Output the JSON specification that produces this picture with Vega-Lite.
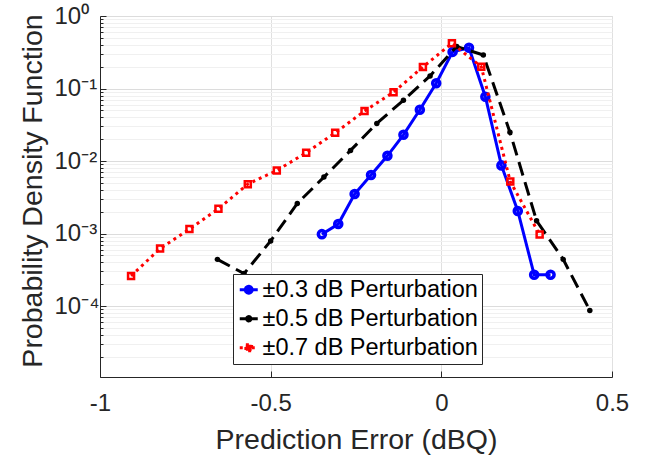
{
  "$schema": "https://vega.github.io/schema/vega-lite/v6.json",
  "width": 512,
  "height": 361,
  "autosize": "none",
  "padding": {"left": 100, "top": 16, "right": 40, "bottom": 82},
  "background": "white",
  "config": {
    "view": {"stroke": "#d9d9d9", "strokeWidth": 1},
    "font": "Liberation Sans"
  },
  "data": {
    "values": [
      {"series": "±0.3 dB Perturbation", "x": -0.350, "y": 0.00098},
      {"series": "±0.3 dB Perturbation", "x": -0.302, "y": 0.00135},
      {"series": "±0.3 dB Perturbation", "x": -0.254, "y": 0.0035},
      {"series": "±0.3 dB Perturbation", "x": -0.206, "y": 0.0064},
      {"series": "±0.3 dB Perturbation", "x": -0.158, "y": 0.0118},
      {"series": "±0.3 dB Perturbation", "x": -0.111, "y": 0.023},
      {"series": "±0.3 dB Perturbation", "x": -0.063, "y": 0.051},
      {"series": "±0.3 dB Perturbation", "x": -0.015, "y": 0.118},
      {"series": "±0.3 dB Perturbation", "x": 0.033, "y": 0.32},
      {"series": "±0.3 dB Perturbation", "x": 0.081, "y": 0.365},
      {"series": "±0.3 dB Perturbation", "x": 0.129, "y": 0.077},
      {"series": "±0.3 dB Perturbation", "x": 0.176, "y": 0.0087},
      {"series": "±0.3 dB Perturbation", "x": 0.224, "y": 0.00205},
      {"series": "±0.3 dB Perturbation", "x": 0.272, "y": 0.00027},
      {"series": "±0.3 dB Perturbation", "x": 0.320, "y": 0.00027},
      {"series": "±0.5 dB Perturbation", "x": -0.656, "y": 0.00044},
      {"series": "±0.5 dB Perturbation", "x": -0.578, "y": 0.00028},
      {"series": "±0.5 dB Perturbation", "x": -0.500, "y": 0.00079},
      {"series": "±0.5 dB Perturbation", "x": -0.422, "y": 0.0026},
      {"series": "±0.5 dB Perturbation", "x": -0.344, "y": 0.006},
      {"series": "±0.5 dB Perturbation", "x": -0.266, "y": 0.014},
      {"series": "±0.5 dB Perturbation", "x": -0.189, "y": 0.033},
      {"series": "±0.5 dB Perturbation", "x": -0.111, "y": 0.069},
      {"series": "±0.5 dB Perturbation", "x": -0.033, "y": 0.149},
      {"series": "±0.5 dB Perturbation", "x": 0.045, "y": 0.38},
      {"series": "±0.5 dB Perturbation", "x": 0.123, "y": 0.29},
      {"series": "±0.5 dB Perturbation", "x": 0.201, "y": 0.025},
      {"series": "±0.5 dB Perturbation", "x": 0.279, "y": 0.0015},
      {"series": "±0.5 dB Perturbation", "x": 0.357, "y": 0.00044},
      {"series": "±0.5 dB Perturbation", "x": 0.435, "y": 0.000087},
      {"series": "±0.7 dB Perturbation", "x": -0.909, "y": 0.00026},
      {"series": "±0.7 dB Perturbation", "x": -0.824, "y": 0.00062},
      {"series": "±0.7 dB Perturbation", "x": -0.738, "y": 0.00115},
      {"series": "±0.7 dB Perturbation", "x": -0.653, "y": 0.0022},
      {"series": "±0.7 dB Perturbation", "x": -0.567, "y": 0.0048},
      {"series": "±0.7 dB Perturbation", "x": -0.482, "y": 0.0074},
      {"series": "±0.7 dB Perturbation", "x": -0.396, "y": 0.013},
      {"series": "±0.7 dB Perturbation", "x": -0.311, "y": 0.0245},
      {"series": "±0.7 dB Perturbation", "x": -0.225, "y": 0.049},
      {"series": "±0.7 dB Perturbation", "x": -0.140, "y": 0.089},
      {"series": "±0.7 dB Perturbation", "x": -0.054, "y": 0.198},
      {"series": "±0.7 dB Perturbation", "x": 0.031, "y": 0.42},
      {"series": "±0.7 dB Perturbation", "x": 0.117, "y": 0.2},
      {"series": "±0.7 dB Perturbation", "x": 0.202, "y": 0.0052},
      {"series": "±0.7 dB Perturbation", "x": 0.288, "y": 0.00097}
    ]
  },
  "encoding": {
    "x": {
      "field": "x", "type": "quantitative",
      "scale": {"domain": [-1, 0.5], "nice": false, "zero": false},
      "axis": {
        "values": [-1, -0.5, 0, 0.5],
        "labelExpr": "'' + datum.value",
        "labelFlush": false,
        "title": "Prediction Error (dBQ)",
        "titleFont": "Liberation Sans", "titleFontSize": 28.5, "titleFontWeight": "normal", "titleColor": "#262626",
        "titleBaseline": "alphabetic", "titleY": 71,
        "labelFont": "Liberation Sans", "labelFontSize": 24, "labelColor": "#262626",
        "labelPadding": 20, "labelBaseline": "top",
        "domainColor": "#262626", "domainWidth": 1,
        "tickColor": "#262626", "tickSize": -6,
        "grid": true, "gridColor": "#e0e0e0", "gridWidth": 1
      }
    },
    "y": {
      "field": "y", "type": "quantitative",
      "scale": {"type": "log", "domain": [0.0000105, 1], "nice": false},
      "axis": {
        "values": [0.00002, 0.00003, 0.00004, 0.00005, 0.00006, 0.00007, 0.00008, 0.00009,
                   0.0001, 0.0002, 0.0003, 0.0004, 0.0005, 0.0006, 0.0007, 0.0008, 0.0009,
                   0.001, 0.002, 0.003, 0.004, 0.005, 0.006, 0.007, 0.008, 0.009,
                   0.01, 0.02, 0.03, 0.04, 0.05, 0.06, 0.07, 0.08, 0.09,
                   0.1, 0.2, 0.3, 0.4, 0.5, 0.6, 0.7, 0.8, 0.9, 1],
        "labelExpr": "datum.value == 1 ? '10⁰' : datum.value == 0.1 ? '10⁻¹' : datum.value == 0.01 ? '10⁻²' : datum.value == 0.001 ? '10⁻³' : datum.value == 0.0001 ? '10⁻⁴' : ''",
        "labelFlush": false,
        "title": "Probability Density Function",
        "titleFont": "Liberation Sans", "titleFontSize": 28.5, "titleFontWeight": "normal", "titleColor": "#262626",
        "titleBaseline": "alphabetic", "titleX": -59, "titleY": 174.5, "titleAlign": "center", "titleAngle": -90,
        "labelFont": "Liberation Sans", "labelFontSize": 24, "labelColor": "#262626",
        "labelAlign": "left", "labelPadding": 52, "labelBaseline": "middle",
        "domainColor": "#262626", "domainWidth": 1,
        "tickColor": "#262626",
        "tickSize": {"condition": {"test": "datum.value == 1 || datum.value == 0.1 || datum.value == 0.01 || datum.value == 0.001 || datum.value == 0.0001", "value": -6}, "value": -3},
        "grid": true,
        "gridColor": {"condition": {"test": "datum.value == 1 || datum.value == 0.1 || datum.value == 0.01 || datum.value == 0.001 || datum.value == 0.0001", "value": "#dcdcdc"}, "value": "#f0f0f0"},
        "gridWidth": 1
      }
    },
    "color": {
      "field": "series", "type": "nominal",
      "scale": {"domain": ["±0.3 dB Perturbation", "±0.5 dB Perturbation", "±0.7 dB Perturbation"], "range": ["#0000ff", "#000000", "#ff0000"]},
      "legend": {
        "orient": "none", "legendX": 133, "legendY": 258,
        "title": null,
        "labelFont": "Liberation Sans", "labelFontSize": 23.5, "labelColor": "#000000", "labelLimit": 400,
        "labelOffset": 2,
        "symbolSize": 324, "symbolStrokeWidth": 3,
        "fillColor": "white", "strokeColor": "#262626",
        "padding": 4, "rowPadding": 4,
        "encode": {
          "symbols": {
            "update": {
              "shape": {"signal": "datum.value === '±0.3 dB Perturbation' ? 'M-1,0H1M0.38,0A0.38,0.38 0 1,1 -0.38,0A0.38,0.38 0 1,1 0.38,0Z' : datum.value === '±0.5 dB Perturbation' ? 'M-1,0H1M0.24,0A0.24,0.24 0 1,1 -0.24,0A0.24,0.24 0 1,1 0.24,0Z' : 'M-1,0H1M-0.32,-0.32H0.32V0.32H-0.32Z'"},
              "fill": {"signal": "datum.value === '±0.7 dB Perturbation' ? 'white' : scale('color', datum.value)"},
              "stroke": {"signal": "scale('color', datum.value)"},
              "strokeDash": {"signal": "datum.value === '±0.7 dB Perturbation' ? [3, 3] : [1, 0]"},
              "strokeWidth": {"value": 3},
              "opacity": {"value": 1}
            }
          }
        }
      }
    }
  },
  "layer": [
    {"transform": [{"filter": "datum.series === '±0.3 dB Perturbation'"}],
     "mark": {"type": "line", "strokeWidth": 3}},
    {"transform": [{"filter": "datum.series === '±0.3 dB Perturbation'"}],
     "mark": {"type": "point", "shape": "circle", "filled": false, "size": 50, "strokeWidth": 3.5, "opacity": 1}},
    {"transform": [{"filter": "datum.series === '±0.5 dB Perturbation'"}],
     "mark": {"type": "line", "strokeWidth": 3, "strokeDash": [14, 7]}},
    {"transform": [{"filter": "datum.series === '±0.5 dB Perturbation'"}],
     "mark": {"type": "point", "shape": "circle", "filled": true, "size": 30, "opacity": 1}},
    {"transform": [{"filter": "datum.series === '±0.7 dB Perturbation'"}],
     "mark": {"type": "line", "strokeWidth": 3, "strokeDash": [3, 4]}},
    {"transform": [{"filter": "datum.series === '±0.7 dB Perturbation'"}],
     "mark": {"type": "point", "shape": "square", "filled": false, "size": 36, "strokeWidth": 2.5, "opacity": 1}}
  ]
}
